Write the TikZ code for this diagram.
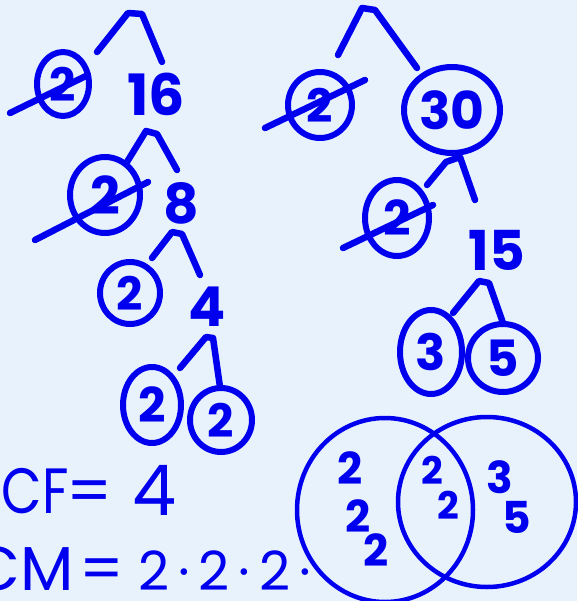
\documentclass[tikz,border=0pt]{standalone}
\usepackage{fontspec}
\setmainfont{Poppins}
\usetikzlibrary{shapes.geometric}
\definecolor{bg}{RGB}{232,242,253}
\definecolor{ink}{RGB}{0,0,238}
\begin{document}
\begin{tikzpicture}[x=1pt,y=-1pt,
  stroke/.style={draw=ink, line width=6.5pt, line cap=round, line join=round},
  num/.style={text=ink, inner sep=0pt, font=\fontsize{#1}{#1}\selectfont\bfseries},
  ring/.style n args={3}{ellipse, draw=ink, line width=6pt, inner sep=0pt,
    minimum width=#1, minimum height=#2, text=ink, font=\fontsize{#3}{#3}\selectfont\bfseries},
  venn/.style 2 args={ellipse, draw=ink, line width=4.5pt, inner sep=0pt,
    minimum width=#1, minimum height=#2},
  hand/.style={text=ink, inner sep=0pt, font=\fontsize{#1}{#1}\selectfont},
]
\fill[bg] (0,0) rectangle (577,601);
\useasboundingbox (0,0) rectangle (577,601);

% ---------- left tree ----------
\node[ring={52}{64}{46}] (a2) at (63,84) {2};
\node[num=57] (a16) at (156,94) {16};
\node[ring={70}{76}{52}] (b2) at (105,195) {2};
\node[num=55] (b8) at (181,203) {8};
\node[ring={60}{62}{46}] (c2) at (130,293) {2};
\node[num=55] (c4) at (207,307) {4};
\node[ring={58}{76}{48}] (d2) at (152,405) {2};
\node[ring={62}{64}{46}] (e2) at (221,420) {2};

\coordinate (a2s1) at (10,113); \coordinate (a2s2) at (88,75);
\coordinate (b2s1) at (35,240); \coordinate (b2s2) at (148,182);
\draw[stroke] (a2s1) -- (a2s2);
\draw[stroke] (b2s1) -- (b2s2);

\coordinate (k1a) at (97,52);  \coordinate (k1b) at (128,13);  \coordinate (k1c) at (142,14);  \coordinate (k1d) at (162,62);
\coordinate (k2a) at (127,162); \coordinate (k2b) at (146,131); \coordinate (k2c) at (157,134); \coordinate (k2d) at (177,170);
\coordinate (k3a) at (152,258); \coordinate (k3b) at (172,232); \coordinate (k3c) at (182,234); \coordinate (k3d) at (200,275);
\coordinate (k4a) at (180,368); \coordinate (k4b) at (206,337); \coordinate (k4c) at (213,338); \coordinate (k4d) at (220,387);
\draw[stroke] (k1a) -- (k1b) -- (k1c) -- (k1d);
\draw[stroke] (k2a) -- (k2b) -- (k2c) -- (k2d);
\draw[stroke] (k3a) -- (k3b) -- (k3c) -- (k3d);
\draw[stroke] (k4a) -- (k4b) -- (k4c) -- (k4d);

% ---------- right tree ----------
\node[ring={64}{66}{46}] (f2) at (320,105) {2};
\node[ring={96}{86}{52}] (g30) at (452,110) {30};
\node[ring={64}{76}{48}] (h2) at (397,218) {2};
\node[num=55] (h15) at (497,250) {15};
\node[ring={62}{84}{50}] (i3) at (431,352) {3};
\node[ring={70}{68}{50}] (j5) at (503,358) {5};

\coordinate (f2s1) at (265,128); \coordinate (f2s2) at (365,80);
\coordinate (h2s1) at (343,248); \coordinate (h2s2) at (433,205);
\draw[stroke] (f2s1) -- (f2s2);
\draw[stroke] (h2s1) -- (h2s2);

\coordinate (m1a) at (338,55);  \coordinate (m1b) at (362,8);   \coordinate (m1c) at (375,10);  \coordinate (m1d) at (417,68);
\coordinate (m2a) at (427,185); \coordinate (m2b) at (446,162); \coordinate (m2c) at (460,157); \coordinate (m2d) at (475,200);
\coordinate (m3a) at (453,313); \coordinate (m3b) at (479,281); \coordinate (m3c) at (489,283); \coordinate (m3d) at (503,323);
\draw[stroke] (m1a) -- (m1b) -- (m1c) -- (m1d);
\draw[stroke] (m2a) -- (m2b) -- (m2c) -- (m2d);
\draw[stroke] (m3a) -- (m3b) -- (m3c) -- (m3d);

% ---------- GCF / LCM ----------
\node[hand=64, anchor=base east, xscale=0.82] (gcf) at (69,513) {GCF};
\node[hand=64, anchor=base] (gcfeq) at (90,513) {=};
\node[hand=70, anchor=base] (gcfv) at (155,515) {4};
\node[hand=62, anchor=base east] (lcm) at (74,590) {LCM};
\node[hand=62, anchor=base] (lcmeq) at (102,590) {=};
\node[hand=54, anchor=base west] (lcmv) at (138,590) {2\,·\,2\,·\,2\,·};

% ---------- Venn ----------
\node[venn={176}{184}] (vl) at (385,510) {};
\node[venn={178}{170}] (vr) at (487,502) {};
\node[num=44] (v1) at (350,468) {2};
\node[num=44] (v2) at (358,516) {2};
\node[num=44] (v3) at (376,550) {2};
\node[num=38] (v4) at (432,470) {2};
\node[num=38] (v5) at (448,505) {2};
\node[num=44] (v6) at (500,477) {3};
\node[num=44] (v7) at (517,517) {5};
\end{tikzpicture}
\end{document}
